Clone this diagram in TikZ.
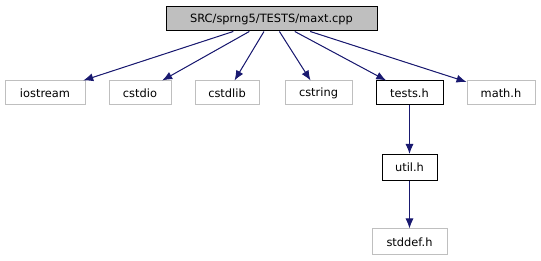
\documentclass[tikz,border=0pt]{standalone}
\usepackage{fontspec}
\setmainfont{DejaVu Sans}
\usetikzlibrary{arrows.meta}
\definecolor{edgeblue}{RGB}{25,25,112}
\definecolor{sysgray}{RGB}{191,191,191}
\definecolor{rootfill}{RGB}{191,191,191}
\begin{document}
\begin{tikzpicture}[x=1pt,y=-1pt,
  box/.style={draw, line width=1pt, inner sep=0pt, minimum height=24pt, font=\fontsize{11.4}{13}\selectfont, anchor=center},
  sysbox/.style={box, draw=sysgray},
  filebox/.style={box, draw=black},
  rootbox/.style={box, draw=black, fill=rootfill},
  dep/.style={draw=edgeblue, line width=1pt, -{Latex[length=10pt,width=8pt]}, fill=edgeblue}]
\useasboundingbox (0,0) rectangle (541,261);
\node[rootbox, minimum width=211pt] (root) at (271.5,19) {SRC/sprng5/TESTS/maxt.cpp};
\node[sysbox, minimum width=80pt] (iostream) at (45,93) {iostream};
\node[sysbox, minimum width=62pt] (cstdio) at (140,93) {cstdio};
\node[sysbox, minimum width=64pt] (cstdlib) at (227,93) {cstdlib};
\node[sysbox, minimum width=67pt] (cstring) at (318.5,93) {cstring};
\node[filebox, minimum width=67pt] (tests) at (409.5,93) {tests.h};
\node[sysbox, minimum width=68pt] (math) at (501,93) {math.h};
\node[filebox, minimum width=55pt, minimum height=26pt] (util) at (409.5,167.5) {util.h};
\node[sysbox, minimum width=75pt, minimum height=26pt] (stddef) at (409.5,242) {stddef.h};
\draw[dep] (root) -- (iostream);
\draw[dep] (root) -- (cstdio);
\draw[dep] (root) -- (cstdlib);
\draw[dep] (root) -- (cstring);
\draw[dep] (root) -- (tests);
\draw[dep] (root) -- (math);
\draw[dep] (tests) -- (util);
\draw[dep] (util) -- (stddef);
\end{tikzpicture}
\end{document}
